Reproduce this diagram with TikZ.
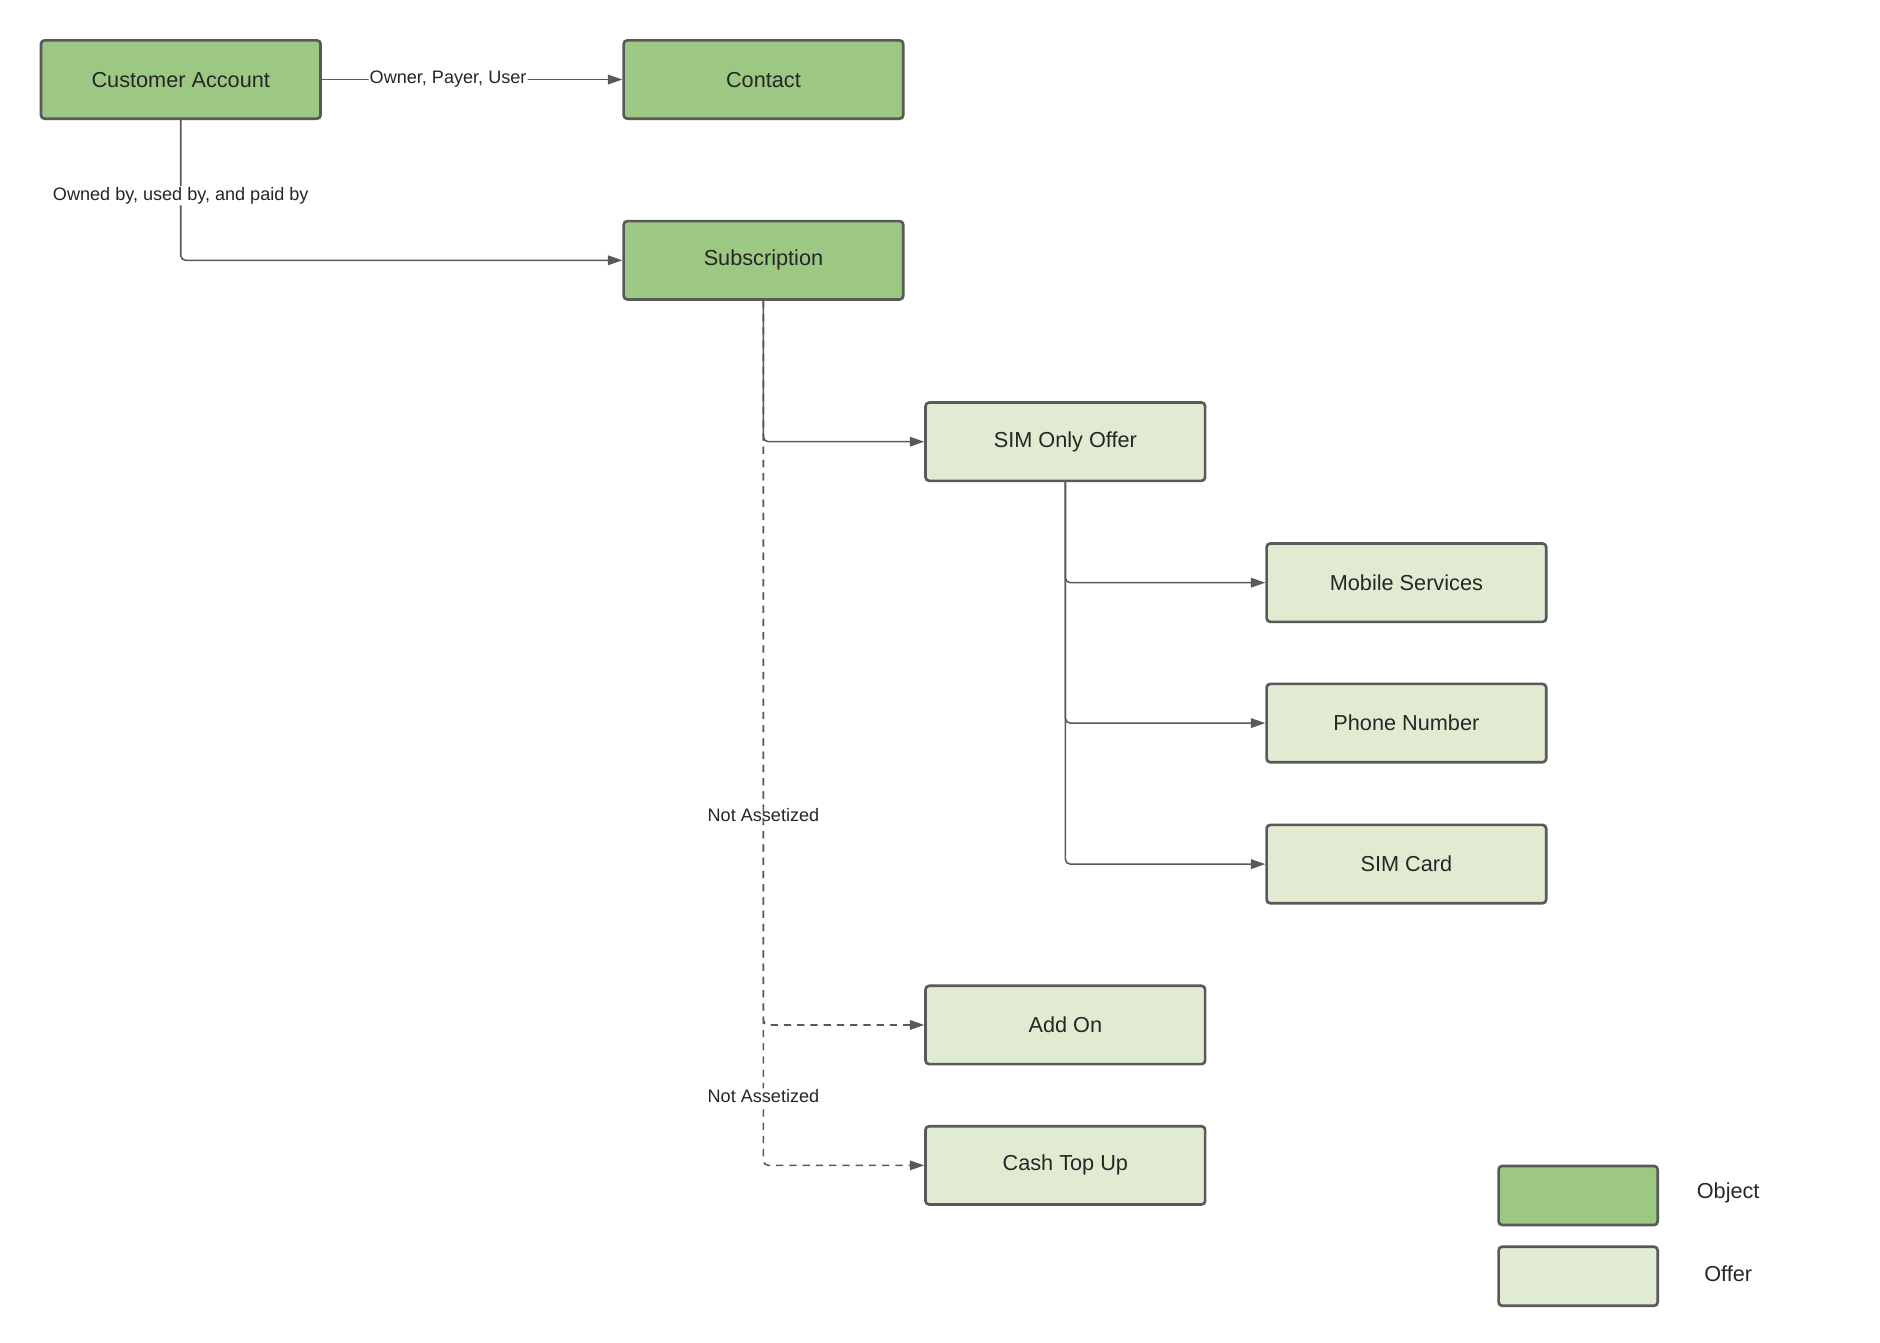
\documentclass[tikz,border=0pt]{standalone}
\usepackage{fontspec}
\setmainfont{Liberation Sans}
\usetikzlibrary{arrows.meta}
\definecolor{dk}{HTML}{9DC883}
\definecolor{lt}{HTML}{E0EBD2}
\definecolor{ln}{HTML}{595959}
\begin{document}
\begin{tikzpicture}[x=1pt,y=-1pt,
 box/.style={draw=ln,line width=2.2pt,rounded corners=3pt,minimum width=232pt,minimum height=65pt,font=\fontsize{18}{20}\selectfont,text=black!85},
 obj/.style={box,fill=dk}, off/.style={box,fill=lt},
 leg/.style={draw=ln,line width=2.2pt,rounded corners=3pt,minimum width=132pt,minimum height=49pt},
 con/.style={draw=ln,line width=1.3pt,rounded corners=4pt,-{Triangle[length=12pt,width=8pt]}},
 dsh/.style={con,dash pattern=on 6pt off 5pt},
 lab/.style={fill=white,inner sep=1pt,font=\fontsize{15}{17}\selectfont,text=black!85}]
\useasboundingbox (0,0) rectangle (1560,1114);
\node[obj] (ca) at (150,66) {Customer Account};
\node[obj] (ct) at (633.5,66) {Contact};
\node[obj] (sub) at (633.5,216) {Subscription};
\node[off] (sim) at (884,366.5) {SIM Only Offer};
\node[off] (mob) at (1167,483.5) {Mobile Services};
\node[off] (ph) at (1167,600) {Phone Number};
\node[off] (card) at (1167,717) {SIM Card};
\node[off] (add) at (884,850.5) {Add On};
\node[off] (cash) at (884,967) {Cash Top Up};
\node[leg,fill=dk] (lo) at (1309.5,992) {};
\node[leg,fill=lt] (lf) at (1309.5,1059) {};
\node[font=\fontsize{18}{20}\selectfont,text=black!85] (lot) at (1434,990) {Object};
\node[font=\fontsize{18}{20}\selectfont,text=black!85] (lft) at (1434,1057) {Offer};
\draw[con] (ca) -- node[lab,pos=0.42]{Owner, Payer, User} (ct);
\draw[con] (ca.south) -- node[lab,pos=0.54]{Owned by, used by, and paid by} (ca.south |- sub.west) -- (sub.west);
\draw[con] (sub.south) |- (sim.west);
\draw[dsh] (sub.south) -- node[lab,pos=0.71]{Not Assetized} (sub.south |- add.west) -- (add.west);
\draw[dsh] (sub.south) -- node[lab,pos=0.92]{Not Assetized} (sub.south |- cash.west) -- (cash.west);
\draw[con] (sim.south) |- (mob.west);
\draw[con] (sim.south) |- (ph.west);
\draw[con] (sim.south) |- (card.west);
\end{tikzpicture}
\end{document}
